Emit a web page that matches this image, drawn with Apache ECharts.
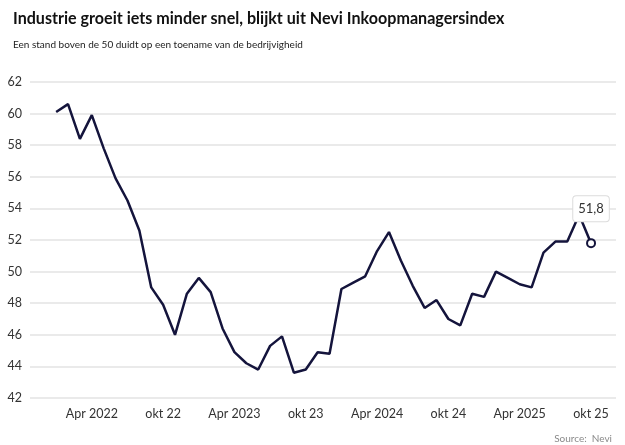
<!DOCTYPE html>
<html>
<head>
<meta charset="utf-8">
<script src="https://cdn.jsdelivr.net/npm/echarts@6/dist/echarts.min.js"></script>
<style>
html,body{margin:0;padding:0;background:#fff;}
#chart{width:625px;height:445px;}
</style>
</head>
<body>
<div id="chart"></div>
<script>
// Monthly Nevi PMI, Jan 2022 .. Oct 2025
const months = [
  "jan 22","feb 22","mrt 22","apr 22","mei 22","jun 22","jul 22","aug 22","sep 22","okt 22","nov 22","dec 22",
  "jan 23","feb 23","mrt 23","apr 23","mei 23","jun 23","jul 23","aug 23","sep 23","okt 23","nov 23","dec 23",
  "jan 24","feb 24","mrt 24","apr 24","mei 24","jun 24","jul 24","aug 24","sep 24","okt 24","nov 24","dec 24",
  "jan 25","feb 25","mrt 25","apr 25","mei 25","jun 25","jul 25","aug 25","sep 25","okt 25"
];
const pmi = [
  60.1, 60.6, 58.4, 59.9, 57.8, 55.9, 54.5, 52.6, 49.0, 47.9, 46.0, 48.6,
  49.6, 48.7, 46.4, 44.9, 44.2, 43.8, 45.3, 45.9, 43.6, 43.8, 44.9, 44.8,
  48.9, 49.3, 49.7, 51.3, 52.5, 50.7, 49.1, 47.7, 48.2, 47.0, 46.6, 48.6,
  48.4, 50.0, 49.6, 49.2, 49.0, 51.2, 51.9, 51.9, 53.6, 51.8
];
const tickIndex = [3, 9, 15, 21, 27, 33, 39, 45];
const tickLabels = ["Apr 2022","okt 22","Apr 2023","okt 23","Apr 2024","okt 24","Apr 2025","okt 25"];
const yTicks = [42,44,46,48,50,52,54,56,58,60,62];

const data = pmi.map((v, i) => [i, v]);
const last = data.length - 1;

const chart = echarts.init(document.getElementById('chart'), null, {renderer: 'canvas'});
const font = 'Lato, "Open Sans", sans-serif';
chart.setOption({
  animation: false,
  backgroundColor: '#fff',
  title: [
    {text: 'Industrie groeit iets minder snel, blijkt uit Nevi Inkoopmanagersindex',
     left: 8, top: 6,
     textStyle: {fontFamily: font, fontSize: 16.1, fontWeight: 'bold', color: '#111'}},
    {text: 'Een stand boven de 50 duidt op een toename van de bedrijvigheid',
     left: 8, top: 35,
     textStyle: {fontFamily: font, fontSize: 10, fontWeight: 'normal', color: '#222'}},
    {text: 'Source:  Nevi', right: 8, top: 429,
     textStyle: {fontFamily: font, fontSize: 10, fontWeight: 'normal', color: '#8a8a8a'}}
  ],
  grid: {left: 30, right: 9, top: 82, bottom: 47, containLabel: false},
  xAxis: {
    type: 'value', min: -2.2, max: 47.1,
    axisLine: {show: false}, axisTick: {show: false}, splitLine: {show: false},
    axisLabel: {
      customValues: tickIndex,
      formatter: v => tickLabels[tickIndex.indexOf(Math.round(v))] || '',
      fontFamily: font, fontSize: 12.5, color: '#333', margin: 9
    }
  },
  yAxis: {
    type: 'value', min: yTicks[0], max: yTicks[yTicks.length-1], interval: 2,
    axisLine: {show: false}, axisTick: {show: false},
    splitLine: {lineStyle: {color: '#e3e3e3', width: 1.5}},
    axisLabel: {fontFamily: font, fontSize: 12.5, color: '#333', margin: 8, align: 'right'}
  },
  series: [{
    type: 'line',
    data: data.map((d, i) => i === last ? {
      value: d, symbol: 'circle', symbolSize: 8,
      itemStyle: {color: '#fff', borderColor: '#14143c', borderWidth: 2},
      label: {
        show: true, position: 'top', distance: 17,
        formatter: p => String(p.value[1]).replace('.', ','),
        fontFamily: font, fontSize: 13, color: '#333',
        backgroundColor: '#fff', borderColor: '#dcdcdc', borderWidth: 1, borderRadius: 3,
        padding: [6, 5, 6, 5]
      }
    } : {value: d, symbol: 'none'}),
    showSymbol: true,
    lineStyle: {color: '#14143c', width: 2.5},
    itemStyle: {color: '#14143c'},
    z: 3
  }]
});
</script>
</body>
</html>
